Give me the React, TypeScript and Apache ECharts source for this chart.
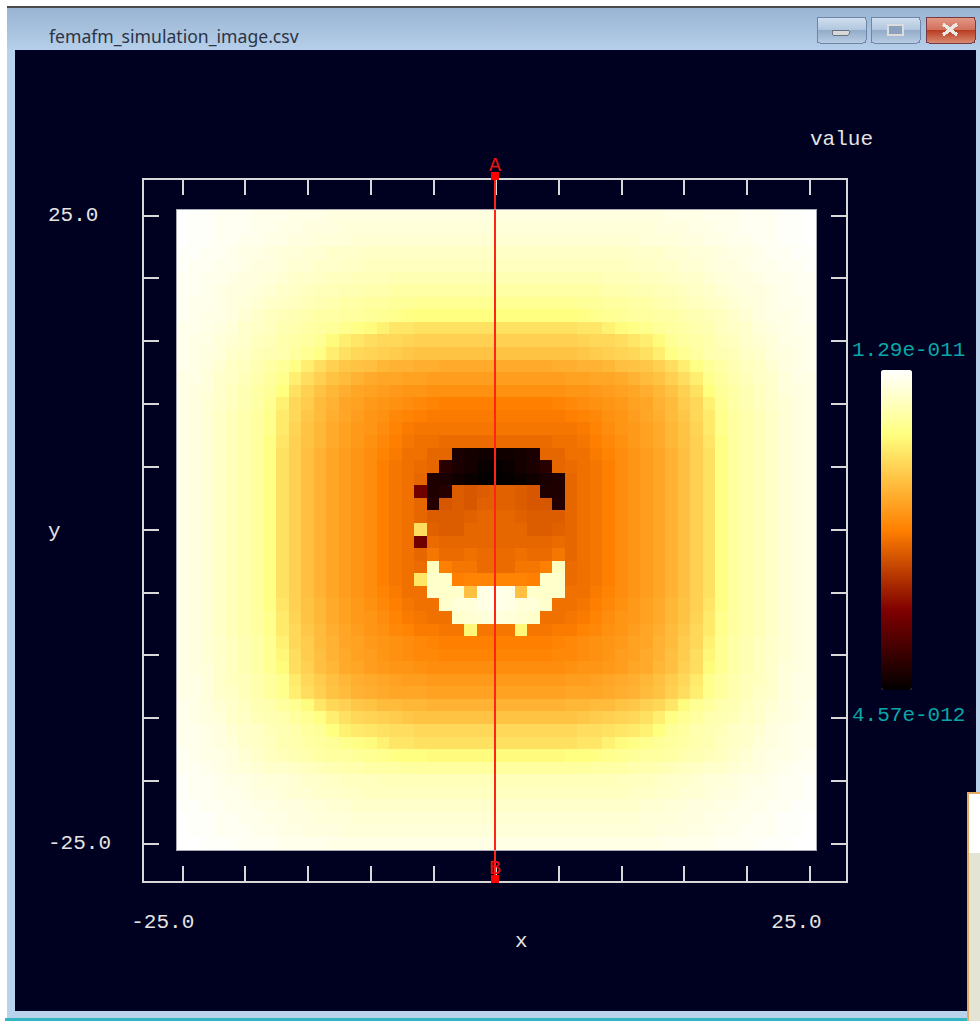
import React, { useEffect, useRef } from "react";
import * as echarts from "echarts";

const windowTitle = "femafm_simulation_image.csv";
const colorLabelMax = "1.29e-011";
const colorLabelMin = "4.57e-012";
const valueMin = 4.57e-12;
const valueMax = 1.29e-11;
const xCoords = Array.from({ length: 51 }, (_, i) => String(i - 25));
const yCoords = Array.from({ length: 51 }, (_, i) => String(25 - i));
const tickValues = [-25, -20, -15, -10, -5, 0, 5, 10, 15, 20, 25];
const endLabels = [-25, 25];
const profileLine = [
  { name: "A", x: -0.08, y: 28.13 },
  { name: "B", x: -0.08, y: -27.8 },
];
const colorStops = [
  "#000000", "#1a0000", "#330000", "#4d0000", "#660000", "#800000", "#991a00", "#b33300", "#cc4d00", "#e66600",
  "#ff8000", "#ff9515", "#ffaa2b", "#ffbf40", "#ffd455", "#ffea6b", "#ffff80", "#ffffa0", "#ffffc0", "#ffffdf", "#ffffff",
];

// percent of the colour range, top row first, left column first
const grid: number[][] = [
  [100,99,99,98,98,98,97,97,97,96,96,96,95,95,95,95,95,95,95,95,95,95,95,95,95,95,95,95,95,95,95,95,95,95,95,95,95,95,95,96,96,96,97,97,97,98,98,98,99,99,100],
  [100,99,99,98,98,98,97,97,96,96,95,95,95,94,94,94,94,94,94,94,94,94,94,94,94,94,94,94,94,94,94,94,94,94,94,94,94,94,95,95,95,96,96,97,97,98,98,98,99,99,100],
  [100,99,99,98,98,97,97,96,96,95,95,94,94,94,93,93,93,93,93,93,93,93,93,93,93,93,93,93,93,93,93,93,93,93,93,93,93,94,94,94,95,95,96,96,97,97,98,98,99,99,100],
  [99,99,98,98,97,96,96,95,94,94,93,93,92,92,92,91,91,91,91,91,91,91,91,91,91,91,91,91,91,91,91,91,91,91,91,91,92,92,92,93,93,94,94,95,96,96,97,98,98,99,99],
  [99,98,98,97,97,96,95,95,94,93,93,92,92,91,91,90,90,90,90,90,90,90,90,90,90,90,90,90,90,90,90,90,90,90,90,90,91,91,92,92,93,93,94,95,95,96,97,97,98,98,99],
  [98,98,97,97,96,95,95,94,93,92,92,91,90,90,89,89,89,88,88,88,88,88,88,88,88,88,88,88,88,88,88,88,88,88,89,89,89,90,90,91,92,92,93,94,95,95,96,97,97,98,98],
  [98,98,97,96,95,95,94,93,92,91,90,89,89,88,88,87,87,86,86,86,86,86,86,86,86,86,86,86,86,86,86,86,86,86,87,87,88,88,89,89,90,91,92,93,94,95,95,96,97,98,98],
  [98,97,97,96,95,94,93,92,91,90,89,88,87,86,86,85,85,84,84,83,83,83,83,83,83,83,83,83,83,83,83,83,84,84,85,85,86,86,87,88,89,90,91,92,93,94,95,96,97,97,98],
  [98,97,96,96,95,93,92,90,89,88,87,86,86,85,85,84,83,82,81,80,80,80,80,80,80,80,80,80,80,80,80,80,81,82,83,84,85,85,86,86,87,88,89,90,92,93,95,96,96,97,98],
  [97,97,96,95,94,92,91,90,88,87,86,85,84,82,81,79,77,74,74,73,73,73,73,73,73,73,73,73,73,73,73,73,74,74,77,79,81,82,84,85,86,87,88,90,91,92,94,95,96,97,97],
  [97,96,96,94,93,92,90,89,87,86,85,83,79,76,74,72,71,71,70,69,69,69,69,69,69,69,69,69,69,69,69,69,70,71,71,72,74,76,79,83,85,86,87,89,90,92,93,94,96,96,97],
  [97,96,95,94,92,91,89,88,87,85,83,81,76,73,71,70,69,68,67,66,66,66,66,66,66,66,66,66,66,66,66,66,67,68,69,70,71,73,76,81,83,85,87,88,89,91,92,94,95,96,97],
  [97,96,95,93,91,90,88,86,84,81,76,72,69,67,66,65,63,62,62,61,61,60,60,60,60,60,60,60,60,60,61,61,62,62,63,65,66,67,69,72,76,81,84,86,88,90,91,93,95,96,97],
  [96,96,94,92,91,89,87,85,82,76,72,69,66,64,62,60,59,59,58,58,57,57,57,57,57,57,57,57,57,57,57,58,58,59,59,60,62,64,66,69,72,76,82,85,87,89,91,92,94,96,96],
  [96,95,94,92,90,88,86,84,80,73,69,66,63,61,59,58,57,56,55,55,54,54,54,54,54,54,54,54,54,54,54,55,55,56,57,58,59,61,63,66,69,73,80,84,86,88,90,92,94,95,96],
  [96,95,93,92,90,88,86,83,77,71,68,64,62,59,58,56,55,54,53,52,51,50,50,50,50,50,50,50,50,50,51,52,53,54,55,56,58,59,62,64,68,71,77,83,86,88,90,92,93,95,96],
  [96,95,93,91,89,87,85,82,75,71,67,64,61,59,57,55,54,52,51,50,49,49,49,49,49,49,49,49,49,49,49,50,51,52,54,55,57,59,61,64,67,71,75,82,85,87,89,91,93,95,96],
  [96,95,93,91,89,87,85,82,75,70,66,63,60,58,56,55,53,51,49,48,48,48,48,48,48,48,48,48,48,48,48,48,49,51,53,55,56,58,60,63,66,70,75,82,85,87,89,91,93,95,96],
  [96,95,93,91,89,87,85,81,74,69,66,63,60,58,56,54,52,50,48,47,47,46,46,46,46,46,46,46,46,46,47,47,48,50,52,54,56,58,60,63,66,69,74,81,85,87,89,91,93,95,96],
  [96,95,93,91,89,87,85,81,73,69,65,62,59,57,55,53,51,49,47,47,45,45,5,4,3,3,3,4,5,45,45,47,47,49,51,53,55,57,59,62,65,69,73,81,85,87,89,91,93,95,96],
  [96,95,93,91,89,87,85,81,73,69,65,62,59,57,55,53,50,48,47,46,45,8,5,4,2,1,2,4,5,8,45,46,47,48,50,53,55,57,59,62,65,69,73,81,85,87,89,91,93,95,96],
  [96,95,93,91,89,87,85,81,73,69,65,62,59,57,55,53,50,48,47,45,6,5,3,2,1,0,1,2,3,5,6,45,47,48,50,53,55,57,59,62,65,69,73,81,85,87,89,91,93,95,96],
  [96,95,93,91,89,87,85,81,73,69,65,62,59,57,55,53,50,48,47,22,6,7,43,42,43,44,44,43,42,6,6,45,47,48,50,53,55,57,59,62,65,69,73,81,85,87,89,91,93,95,96],
  [96,95,93,91,89,87,85,81,73,69,65,62,59,57,55,53,50,48,47,45,7,42,43,42,44,44,44,43,42,42,7,45,47,48,50,53,55,57,59,62,65,69,73,81,85,87,89,91,93,95,96],
  [96,95,93,91,89,87,85,81,73,69,65,62,59,57,55,53,50,48,47,45,43,43,43,44,45,45,45,44,43,43,43,45,47,48,50,53,55,57,59,62,65,69,73,81,85,87,89,91,93,95,96],
  [96,95,93,91,89,87,85,81,73,69,65,62,59,57,55,53,50,48,47,72,44,43,43,45,45,45,45,45,43,43,44,45,47,48,50,53,55,57,59,62,65,69,73,81,85,87,89,91,93,95,96],
  [96,95,93,91,89,87,85,81,73,69,65,62,59,57,55,53,50,48,47,22,46,45,45,45,45,45,45,45,45,45,46,45,47,48,50,53,55,57,59,62,65,69,73,81,85,87,89,91,93,95,96],
  [96,95,93,91,89,87,85,81,73,69,65,62,59,57,55,53,50,48,47,45,48,46,46,47,46,46,46,47,46,46,48,45,47,48,50,53,55,57,59,62,65,69,73,81,85,87,89,91,93,95,96],
  [96,95,93,91,89,87,85,81,73,69,65,62,59,57,55,53,50,48,47,46,90,50,48,48,46,46,46,48,48,50,90,46,47,48,50,53,55,57,59,62,65,69,73,81,85,87,89,91,93,95,96],
  [96,95,93,91,89,87,85,81,73,69,65,62,59,57,55,53,50,48,47,74,92,92,50,51,51,51,51,51,50,92,92,46,47,48,50,53,55,57,59,62,65,69,73,81,85,87,89,91,93,95,96],
  [96,95,93,91,89,87,85,81,73,69,65,62,59,57,55,53,51,49,47,47,92,92,92,65,96,97,96,65,92,92,92,47,47,49,51,53,55,57,59,62,65,69,73,81,85,87,89,91,93,95,96],
  [96,95,93,91,89,87,85,81,74,69,66,63,60,58,56,54,52,50,48,47,47,92,94,94,96,97,96,94,94,92,47,47,48,50,52,54,56,58,60,63,66,69,74,81,85,87,89,91,93,95,96],
  [96,95,93,91,89,87,85,82,75,70,66,63,60,58,56,55,53,51,49,48,47,47,92,93,94,95,94,93,92,47,47,48,49,51,53,55,56,58,60,63,66,70,75,82,85,87,89,91,93,95,96],
  [96,95,93,91,89,87,85,82,75,71,67,64,61,59,57,55,54,52,51,49,49,48,48,78,48,48,48,78,48,48,49,49,51,52,54,55,57,59,61,64,67,71,75,82,85,87,89,91,93,95,96],
  [96,95,93,92,90,88,86,83,77,71,68,64,62,59,58,56,55,54,53,52,51,50,50,50,50,50,50,50,50,50,51,52,53,54,55,56,58,59,62,64,68,71,77,83,86,88,90,92,93,95,96],
  [96,95,93,92,90,88,86,83,78,72,68,65,62,60,58,57,55,54,53,52,52,51,51,51,51,51,51,51,51,51,52,52,53,54,55,57,58,60,62,65,68,72,78,83,86,88,90,92,93,95,96],
  [96,95,94,92,90,88,86,83,79,72,69,65,63,60,59,57,56,55,55,54,53,53,53,53,53,53,53,53,53,53,53,54,55,55,56,57,59,60,63,65,69,72,79,83,86,88,90,92,94,95,96],
  [96,96,94,92,90,89,87,85,82,75,71,68,65,63,61,60,59,58,57,57,56,56,56,56,56,56,56,56,56,56,56,57,57,58,59,60,61,63,65,68,71,75,82,85,87,89,90,92,94,96,96],
  [96,96,94,92,91,89,87,85,82,76,72,69,66,64,62,61,60,59,59,59,58,58,58,58,58,58,58,58,58,58,58,59,59,59,60,61,62,64,66,69,72,76,82,85,87,89,91,92,94,96,96],
  [97,96,95,93,92,90,88,87,85,83,79,74,71,69,67,66,64,64,63,63,62,62,62,62,62,62,62,62,62,62,62,63,63,64,64,66,67,69,71,74,79,83,85,87,88,90,92,93,95,96,97],
  [97,96,95,94,92,91,89,88,87,85,83,81,76,73,71,70,69,68,67,66,66,66,66,66,66,66,66,66,66,66,66,66,67,68,69,70,71,73,76,81,83,85,87,88,89,91,92,94,95,96,97],
  [97,97,96,95,93,92,91,89,88,87,85,84,80,77,75,74,73,72,72,71,71,71,71,71,71,71,71,71,71,71,71,71,72,72,73,74,75,77,80,84,85,87,88,89,91,92,93,95,96,97,97],
  [97,97,96,95,94,92,91,90,88,87,86,85,84,82,81,79,77,74,74,73,73,73,73,73,73,73,73,73,73,73,73,73,74,74,77,79,81,82,84,85,86,87,88,90,91,92,94,95,96,97,97],
  [98,97,96,96,95,93,92,90,89,88,87,86,85,85,84,83,82,81,80,80,79,79,79,79,79,79,79,79,79,79,79,80,80,81,82,83,84,85,85,86,87,88,89,90,92,93,95,96,96,97,98],
  [98,98,97,96,95,94,93,92,92,91,90,89,88,87,87,86,86,86,85,85,85,85,85,85,85,85,85,85,85,85,85,85,85,86,86,86,87,87,88,89,90,91,92,92,93,94,95,96,97,98,98],
  [99,98,98,97,96,96,95,94,94,93,92,92,91,90,90,90,89,89,89,89,89,89,89,89,89,89,89,89,89,89,89,89,89,89,89,90,90,90,91,92,92,93,94,94,95,96,96,97,98,98,99],
  [99,98,98,97,97,96,95,95,94,93,93,92,92,91,91,90,90,90,90,90,90,90,90,90,90,90,90,90,90,90,90,90,90,90,90,90,91,91,92,92,93,93,94,95,95,96,97,97,98,98,99],
  [99,99,98,98,97,97,96,96,95,95,94,94,93,93,92,92,92,92,92,92,92,92,92,92,92,92,92,92,92,92,92,92,92,92,92,92,92,93,93,94,94,95,95,96,96,97,97,98,98,99,99],
  [100,99,99,98,98,97,97,96,96,95,95,94,94,94,93,93,93,93,93,93,93,93,93,93,93,93,93,93,93,93,93,93,93,93,93,93,93,94,94,94,95,95,96,96,97,97,98,98,99,99,100],
  [100,99,99,98,98,98,97,97,96,96,95,95,95,94,94,94,94,94,94,94,94,94,94,94,94,94,94,94,94,94,94,94,94,94,94,94,94,94,95,95,95,96,96,97,97,98,98,98,99,99,100],
  [100,100,99,99,99,98,98,98,97,97,97,97,96,96,96,96,96,96,96,96,96,96,96,96,96,96,96,96,96,96,96,96,96,96,96,96,96,96,96,97,97,97,97,98,98,98,99,99,99,100,100],
];

const MONO = "'Liberation Mono', 'DejaVu Sans Mono', monospace";
const FRAME = "#d8d8d8";
const vGrad = (a: string, b: string, c?: string, d?: string) =>
  new echarts.graphic.LinearGradient(0, 0, 0, 1,
    c && d
      ? [
          { offset: 0, color: a },
          { offset: 0.5, color: b },
          { offset: 0.5, color: c },
          { offset: 1, color: d },
        ]
      : [
          { offset: 0, color: a },
          { offset: 1, color: b },
        ]);

function chromeElements() {
  const btnStroke = "#6f87a6";
  const rect = (x: number, y: number, w: number, h: number, fill: any, extra: any = {}) => ({
    type: "rect",
    silent: true,
    z: -10,
    shape: { x, y, width: w, height: h, r: extra.r || 0 },
    style: { fill, stroke: extra.stroke, lineWidth: extra.stroke ? 1 : 0 },
  });
  return [
    rect(0, 0, 980, 1021, "#ffffff"),
    rect(7, 8, 973, 1013, "#b9d2ec"),
    rect(7, 8, 973, 42, vGrad("#98b4d2", "#b6cfea")),
    rect(7, 6, 973, 1.5, "#4a4a4a"),
    rect(15, 50, 961, 961, "#000020"),
    rect(5, 1018, 962, 3, "#33b5c4"),
    rect(817, 17, 49, 26, vGrad("#d3e0f0", "#b0c6de", "#92aac6", "#b8cde4"), { r: 3, stroke: btnStroke }),
    rect(832, 30, 17, 5, "#d8d8d8", { r: 1, stroke: "#6a7484" }),
    rect(871, 17, 49, 26, vGrad("#d3e0f0", "#b0c6de", "#92aac6", "#b8cde4"), { r: 3, stroke: btnStroke }),
    {
      type: "rect", silent: true, z: -10,
      shape: { x: 888, y: 25, width: 15, height: 10, r: 1 },
      style: { fill: "#8aa0bc", stroke: "#dcdcdc", lineWidth: 2.5 },
    },
    rect(926, 17, 49, 26, vGrad("#e69a88", "#d0705c", "#b83a20", "#d88a70"), { r: 3, stroke: "#7a3a44" }),
    {
      type: "line", silent: true, z: -10,
      shape: { x1: 943, y1: 24, x2: 957, y2: 35 },
      style: { stroke: "#ece8e4", lineWidth: 3.5 },
    },
    {
      type: "line", silent: true, z: -10,
      shape: { x1: 957, y1: 24, x2: 943, y2: 35 },
      style: { stroke: "#ece8e4", lineWidth: 3.5 },
    },
    rect(967, 792, 13, 229, "#e4e4d4"),
    rect(969, 794, 11, 59, "#ffffff"),
    rect(967, 792, 2, 229, "#e4a860"),
    rect(967, 792, 13, 2, "#e4a860"),
    {
      type: "text", silent: true, z: -9,
      style: { x: 49, y: 36, text: windowTitle, fill: "#2c3444", font: "17.6px 'Noto Sans'", verticalAlign: "middle" },
    },
  ];
}

function labelElements() {
  const txt = (x: number, y: number, text: string, fill: string, size = 21) => ({
    type: "text", silent: true, z: 20,
    style: { x, y, text, fill, font: `${size}px ${MONO}`, verticalAlign: "middle", align: "left" },
  });
  return [
    {
      type: "rect", silent: true, z: 10,
      shape: { x: 176, y: 209, width: 640, height: 641 },
      style: { fill: "none", stroke: "#a8a8b4", lineWidth: 1 },
    },
    txt(810, 139, "value", "#e4e4e4"),
    txt(852, 350, colorLabelMax, "#08a8a8"),
    txt(852, 715, colorLabelMin, "#08a8a8"),
    txt(515, 941, "x", "#e4e4e4"),
    txt(48, 531, "y", "#e4e4e4"),
  ];
}

export default function App() {
  const ref = useRef<HTMLDivElement>(null);
  useEffect(() => {
    document.body.style.margin = "0";
    const chart = echarts.init(ref.current!, null, { renderer: "svg" });
    const cells: [number, number, number][] = [];
    grid.forEach((row, r) =>
      row.forEach((p, c) => cells.push([c, r, valueMin + ((valueMax - valueMin) * p) / 100]))
    );
    const axisCommon = (labels: boolean) => ({
      type: "value" as const,
      splitLine: { show: false },
      axisLine: { show: true, onZero: false, lineStyle: { color: FRAME, width: 1.5 } },
      axisTick: { show: true, inside: true, length: 16, customValues: tickValues, lineStyle: { color: FRAME, width: 1.5 } },
      axisLabel: { show: labels },
    });
    const labelFmt = (v: number) => v.toFixed(1);
    chart.setOption({
      animation: false,
      backgroundColor: "#ffffff",
      graphic: { elements: [...chromeElements(), ...labelElements()] },
      grid: [
        { left: 143, top: 179, width: 704, height: 703, containLabel: false },
        { left: 176, top: 209, width: 640, height: 641, containLabel: false },
      ],
      xAxis: [
        {
          ...axisCommon(true), gridIndex: 0, position: "bottom", min: -28.13, max: 27.97,
          axisLabel: {
            show: true, customValues: endLabels, formatter: labelFmt, color: "#e4e4e4",
            fontFamily: MONO, fontSize: 21, margin: 30, align: "right", padding: [0, -12, 0, 0],
          },
        },
        { ...axisCommon(false), gridIndex: 0, position: "top", min: -28.13, max: 27.97 },
        { type: "category", gridIndex: 1, data: xCoords, show: false },
      ],
      yAxis: [
        {
          ...axisCommon(true), gridIndex: 0, position: "left", min: -28.05, max: 27.89,
          axisLabel: {
            show: true, customValues: endLabels, formatter: labelFmt, color: "#e4e4e4",
            fontFamily: MONO, fontSize: 21, margin: 95, align: "left",
          },
        },
        { ...axisCommon(false), gridIndex: 0, position: "right", min: -28.05, max: 27.89 },
        { type: "category", gridIndex: 1, data: yCoords, inverse: true, show: false },
      ],
      visualMap: {
        type: "continuous", seriesIndex: 0, min: valueMin, max: valueMax, calculable: false,
        left: 881, top: 370, itemWidth: 31, itemHeight: 320, padding: 0, showLabel: false,
        inRange: { color: colorStops }, text: undefined, textStyle: { color: "rgba(0,0,0,0)" },
      },
      series: [
        {
          type: "heatmap", xAxisIndex: 2, yAxisIndex: 2, data: cells, z: 2,
          itemStyle: { borderWidth: 0 }, emphasis: { disabled: true }, progressive: 0,
        },
        {
          type: "line", xAxisIndex: 0, yAxisIndex: 0, z: 6, clip: false,
          data: profileLine.map((p) => ({
            value: [p.x, p.y],
            label: { show: true, formatter: p.name, position: "top", distance: -4, color: "#f01010", fontFamily: MONO, fontSize: 20 },
          })),
          symbol: "rect", symbolSize: 8,
          itemStyle: { color: "#ff0000" },
          lineStyle: { color: "#ff2418", width: 1.5 },
        },
      ],
    });
    return () => chart.dispose();
  }, []);
  return (
    <>
      <style>{`svg path { shape-rendering: crispEdges; }`}</style>
      <div ref={ref} style={{ position: "fixed", left: 0, top: 0, width: 980, height: 1021 }} />
    </>
  );
}
